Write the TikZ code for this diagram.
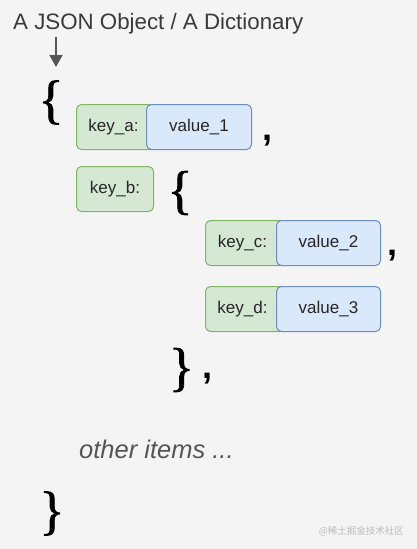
\documentclass[tikz,border=0pt]{standalone}
\usepackage{fontspec}
\setmainfont{Liberation Sans}
\newfontfamily\cjkfont{Noto Sans CJK SC}
\newfontfamily\bracefont[FakeBold=1.2]{Liberation Serif}
\usetikzlibrary{arrows.meta}
\definecolor{bg}{HTML}{F4F4F4}
\definecolor{kfill}{HTML}{D5E8D4}
\definecolor{kdraw}{HTML}{82B366}
\definecolor{vfill}{HTML}{DAE8FC}
\definecolor{vdraw}{HTML}{6C8EBF}
\definecolor{txt}{HTML}{3A3A3A}
\definecolor{arr}{HTML}{555555}
\definecolor{itemtxt}{HTML}{555555}
\definecolor{wm}{HTML}{BBBBBB}
\begin{document}
\begin{tikzpicture}[x=1pt,y=-1pt,
  cell/.style={rounded corners=5pt, line width=1pt, minimum height=45pt,
    inner sep=0pt, text height=12pt, text depth=4pt,
    font=\fontsize{17}{20}\selectfont, text=black!85, anchor=north west},
  keybox/.style={cell, draw=kdraw, fill=kfill},
  valbox/.style={cell, draw=vdraw, fill=vfill},
  brace/.style={font=\bracefont\fontsize{53}{53}\selectfont, inner sep=0pt},
  comma/.style={font=\bfseries\fontsize{36}{36}\selectfont, inner sep=0pt},
]
\fill[bg] (0,0) rectangle (417,549);
\useasboundingbox (0,0) rectangle (417,549);

\node[anchor=base west, inner sep=0pt, text=txt, font=\fontsize{22.3}{26}\selectfont] (title) at (13,29) {A JSON Object / A Dictionary};
\coordinate (arrS) at (56,37);
\coordinate (arrE) at (56,67);
\draw[arr, line width=1.3pt, -{Triangle[length=12pt,width=13pt]}] (arrS) -- (arrE);

\node[brace] (ob1) at (51,102.5) {\{};

\node[keybox, minimum width=80pt] (ka) at (76,104) {\hspace*{-6pt}key\_a:};
\node[valbox, minimum width=105pt] (v1) at (146,104) {value\_1};
\node[comma] (c1) at (267,141) {,};

\node[keybox, minimum width=77pt] (kb) at (76,166) {key\_b:};
\node[brace] (ob2) at (180,193) {\{};

\node[keybox, minimum width=80pt] (kc) at (205,220) {\hspace*{-6pt}key\_c:};
\node[valbox, minimum width=104pt] (v2) at (276,220) {value\_2};
\node[comma] (c2) at (392.5,256) {,};

\node[keybox, minimum width=80pt] (kd) at (205,286) {\hspace*{-6pt}key\_d:};
\node[valbox, minimum width=104pt] (v3) at (276,286) {value\_3};

\node[brace] (cb2) at (181.5,370) {\}};
\node[comma] (c3) at (207,379) {,};

\node[anchor=base west, inner sep=0pt, text=itemtxt, font=\itshape\fontsize{25.5}{30}\selectfont] (other) at (79,458) {other items ...};

\node[brace] (cb1) at (52,513.5) {\}};

\node[anchor=east, inner sep=0pt, text=wm, font=\cjkfont\fontsize{9.5}{11}\selectfont] (wmark) at (404,531) {@稀土掘金技术社区};
\end{tikzpicture}
\end{document}
